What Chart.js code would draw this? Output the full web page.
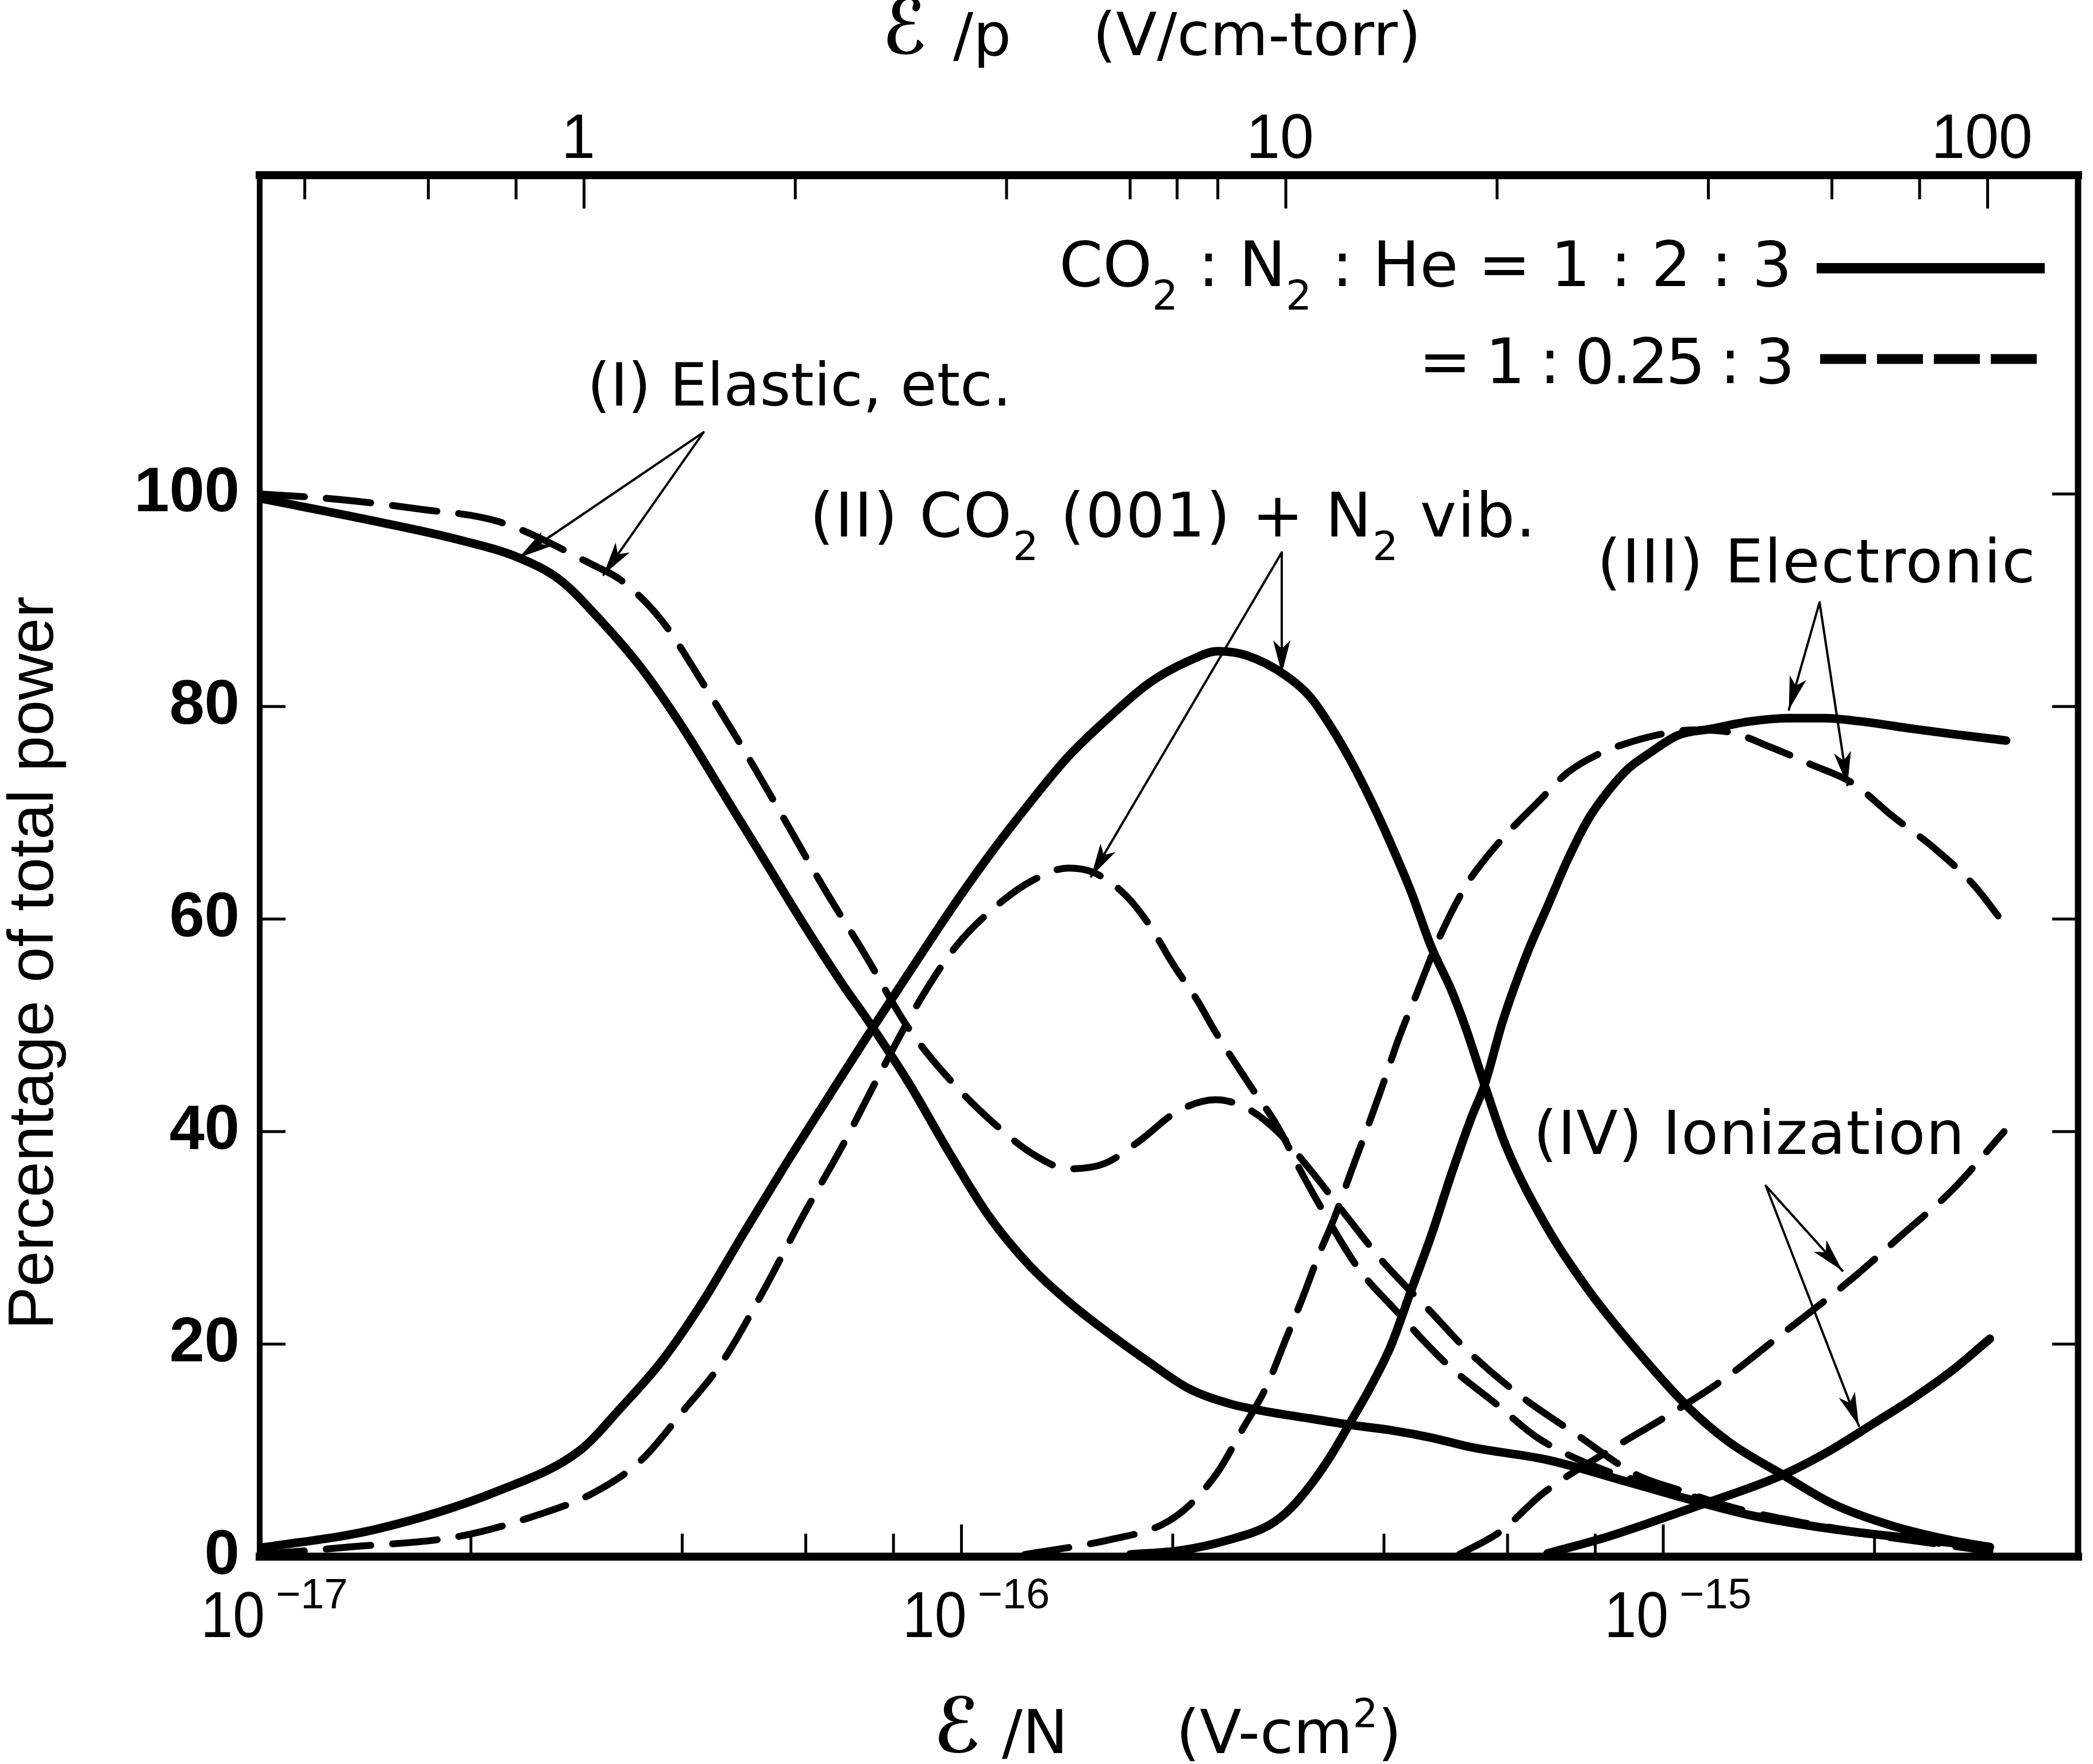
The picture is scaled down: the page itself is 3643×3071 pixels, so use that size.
<!DOCTYPE html>
<html lang="en">
<head>
  <meta charset="UTF-8">
  <title>Percentage of total power vs E/N</title>
  <script src="https://cdn.jsdelivr.net/npm/chart.js"></script>
  <style>
    body { margin: 0; background: #fff; }
    #chart { display: block; }
  </style>
</head>
<body>
<canvas id="chart" width="3643" height="3071"></canvas>
<script>
  // E/N (V-cm^2) against percentage of total power.
  // solid = CO2:N2:He 1:2:3, dashed = 1:0.25:3
  const elasticSolid = [[1.00e-17, 99.6], [1.47e-17, 97.4], [1.92e-17, 95.7], [2.34e-17, 94.0], [2.68e-17, 91.9],
    [3.06e-17, 88.1], [3.50e-17, 83.6], [4.00e-17, 78.1], [4.57e-17, 71.9], [5.22e-17, 65.7], [5.96e-17, 59.5],
    [6.81e-17, 53.6], [7.28e-17, 50.9], [8.39e-17, 44.7], [9.59e-17, 38.1], [1.09e-16, 32.2], [1.25e-16, 27.4],
    [1.42e-16, 24.0], [1.63e-16, 20.9], [1.85e-16, 18.3], [2.11e-16, 15.8], [2.41e-16, 14.4], [2.75e-16, 13.6],
    [3.14e-16, 13.0], [3.58e-16, 12.4], [4.09e-16, 11.9], [4.67e-16, 11.2], [5.32e-16, 10.3], [6.84e-16, 9.1],
    [8.93e-16, 7.0], [1.10e-15, 5.3], [1.33e-15, 3.9], [1.74e-15, 2.6], [2.27e-15, 1.7], [2.92e-15, 0.9]];
  const elasticDashed = [[1.00e-17, 100], [1.29e-17, 99.5], [1.68e-17, 98.6], [2.19e-17, 97.4], [2.99e-17, 93.3],
    [3.27e-17, 91.9], [3.74e-17, 88.1], [4.28e-17, 82.2], [4.89e-17, 76.0], [5.58e-17, 69.5], [6.37e-17, 62.9],
    [7.28e-17, 56.7], [8.39e-17, 49.8], [9.53e-17, 45.2], [1.12e-16, 40.6], [1.27e-16, 37.8], [1.42e-16, 36.5],
    [1.60e-16, 37.0], [1.80e-16, 39.2], [2.02e-16, 41.8], [2.30e-16, 43.0], [2.55e-16, 42.2], [2.82e-16, 40.0],
    [3.14e-16, 36.4], [3.58e-16, 31.6], [3.98e-16, 27.8], [4.67e-16, 23.0], [5.24e-16, 19.5], [6.24e-16, 15.2],
    [7.52e-16, 11.5], [9.16e-16, 7.7], [1.05e-15, 6.3], [1.26e-15, 4.6], [1.58e-15, 3.2], [2.00e-15, 2.1],
    [2.51e-15, 1.2], [2.92e-15, 0.6]];
  const co2Solid = [[1.00e-17, 0.8], [1.47e-17, 2.6], [2.19e-17, 6.2], [2.86e-17, 10.0], [3.27e-17, 14.0],
    [3.74e-17, 18.4], [4.28e-17, 24.0], [4.89e-17, 30.4], [5.58e-17, 36.6], [6.37e-17, 42.6], [7.28e-17, 48.6],
    [8.39e-17, 54.8], [9.59e-17, 60.6], [1.09e-16, 65.8], [1.25e-16, 70.9], [1.42e-16, 75.3], [1.63e-16, 79.1],
    [1.85e-16, 82.2], [2.11e-16, 84.3], [2.32e-16, 85.2], [2.55e-16, 84.8], [2.90e-16, 82.9], [3.14e-16, 80.9],
    [3.36e-16, 78.1], [3.58e-16, 75.0], [3.83e-16, 71.2], [4.09e-16, 67.1], [4.37e-16, 62.6], [4.67e-16, 57.4],
    [4.99e-16, 53.3], [5.24e-16, 49.6], [5.57e-16, 44.3], [5.98e-16, 38.5], [6.84e-16, 30.9], [7.82e-16, 25.1],
    [8.93e-16, 20.3], [1.08e-15, 14.2], [1.24e-15, 10.8], [1.48e-15, 7.7], [1.74e-15, 5.0], [2.12e-15, 2.9],
    [2.59e-15, 1.5], [2.92e-15, 0.9]];
  const co2Dashed = [[1.00e-17, 0.2], [1.34e-17, 0.9], [1.92e-17, 1.9], [2.51e-17, 4.0], [2.99e-17, 6.0],
    [3.50e-17, 9.1], [4.00e-17, 13.6], [4.57e-17, 18.4], [5.22e-17, 25.0], [5.96e-17, 32.2], [6.81e-17, 39.0],
    [7.66e-17, 45.5], [8.75e-17, 52.5], [9.84e-17, 57.5], [1.12e-16, 61.2], [1.26e-16, 63.6], [1.42e-16, 64.8],
    [1.54e-16, 64.4], [1.71e-16, 62.3], [1.85e-16, 59.5], [2.00e-16, 55.8], [2.17e-16, 52.3], [2.29e-16, 49.6],
    [2.58e-16, 44.3], [2.82e-16, 40.5], [3.06e-16, 36.0], [3.27e-16, 32.6], [3.68e-16, 27.1], [4.14e-16, 23.3],
    [4.92e-16, 18.1], [5.77e-16, 14.4], [6.65e-16, 11.1], [8.36e-16, 8.0], [1.02e-15, 6.4], [1.26e-15, 4.4],
    [1.58e-15, 3.0], [2.00e-15, 2.0], [2.51e-15, 1.1], [2.92e-15, 0.5]];
  const electronicSolid = [[1.74e-16, 0.2], [2.06e-16, 0.6], [2.41e-16, 1.6], [2.75e-16, 3.0], [2.94e-16, 4.5],
    [3.14e-16, 6.7], [3.36e-16, 9.5], [3.58e-16, 12.6], [3.83e-16, 16.0], [4.09e-16, 19.8], [4.37e-16, 25.0],
    [4.67e-16, 30.2], [4.99e-16, 36.0], [5.32e-16, 41.2], [5.57e-16, 44.5], [5.90e-16, 50.3], [6.40e-16, 56.8],
    [6.84e-16, 61.2], [7.31e-16, 65.6], [7.82e-16, 69.4], [8.36e-16, 72.1], [8.93e-16, 74.2], [9.55e-16, 75.6],
    [1.05e-15, 77.3], [1.17e-15, 77.9], [1.33e-15, 78.6], [1.52e-15, 78.9], [1.69e-15, 78.9], [1.91e-15, 78.6],
    [2.27e-15, 77.9], [2.59e-15, 77.4], [3.08e-15, 76.8]];
  const electronicDashed = [[1.23e-16, 0.2], [1.63e-16, 1.6], [1.93e-16, 3.0], [2.11e-16, 4.8], [2.32e-16, 8.0],
    [2.51e-16, 11.9], [2.72e-16, 16.0], [2.90e-16, 20.5], [3.06e-16, 24.3], [3.23e-16, 28.4], [3.40e-16, 31.9],
    [3.58e-16, 36.0], [3.78e-16, 40.2], [3.98e-16, 44.3], [4.20e-16, 48.8], [4.43e-16, 52.6], [4.80e-16, 58.3],
    [5.24e-16, 63.2], [5.52e-16, 65.3], [5.98e-16, 68.0], [6.65e-16, 71.1], [7.31e-16, 73.8], [8.13e-16, 75.6],
    [8.93e-16, 76.6], [9.93e-16, 77.4], [1.10e-15, 77.8], [1.24e-15, 77.6], [1.42e-15, 76.2], [1.63e-15, 74.5],
    [1.86e-15, 72.8], [2.12e-15, 69.7], [2.43e-15, 66.7], [2.77e-15, 63.2], [3.04e-15, 59.8]];
  const ionSolid = [[6.84e-16, 0.3], [8.36e-16, 1.9], [1.10e-15, 4.6], [1.48e-15, 7.7], [1.74e-15, 10.1],
    [1.99e-15, 12.5], [2.27e-15, 14.9], [2.59e-15, 17.6], [2.92e-15, 20.5]];
  const ionDashed = [[5.12e-16, 0.2], [5.87e-16, 2.4], [6.75e-16, 6.0], [8.53e-16, 10.3], [1.01e-15, 13.2],
    [1.22e-15, 16.7], [1.46e-15, 20.7], [1.83e-15, 25.8], [2.19e-15, 30.3], [2.59e-15, 34.6], [3.06e-15, 40.0]];

  // axes
  const yTicks = [0, 20, 40, 60, 80, 100];
  const enTicks = [2e-17, 4e-17, 6e-17, 8e-17, 1e-16, 2e-16, 4e-16, 6e-16, 8e-16, 1e-15, 2e-15];
  const enDecades = [-17, -16, -15];
  const epTicks = [0.4, 0.6, 0.8, 1, 2, 4, 6, 7, 8, 10, 20, 40, 60, 80, 100];
  const epLabels = [1, 10, 100];
  const nPerTorr = 3.45e16; // E/p = E/N * N(1 torr)
  const enMin = 1e-17, enMax = 3.9e-15;

  // curve labels and their arrows, in data coordinates
  const notes = [
    { parts: [['(I) Elastic, etc.', '']], at: [2.93e-17, 108.3], size: 103, spacing: 0 },
    { parts: [['(II) CO', ''], ['2', 'sub'], [' (001) + N', ''], ['2', 'sub'], [' vib.', '']], at: [6.08e-17, 96.0], size: 107, spacing: 2 },
    { parts: [['(III) Electronic', '']], at: [8.05e-16, 91.7], size: 106, spacing: 2 },
    { parts: [['(IV) Ionization', '']], at: [6.53e-16, 37.9], size: 106, spacing: 1 }
  ];
  const arrows = [
    { apex: [4.29e-17, 105.8], tips: [[2.34e-17, 94.0], [3.09e-17, 92.4]] },
    { apex: [2.86e-16, 94.5], tips: [[2.86e-16, 83.1], [1.53e-16, 64.0]] },
    { apex: [1.67e-15, 89.8], tips: [[1.51e-15, 79.7], [1.83e-15, 72.6]] },
    { apex: [1.40e-15, 34.9], tips: [[1.80e-15, 26.9], [1.90e-15, 12.3]] }
  ];

  const INK = '#000';
  const SANS = '"DejaVu Sans"';
  const HELV = '"Liberation Sans"';

  function curve(points, dashed) {
    return {
      data: points.map(p => ({ x: p[0], y: p[1] })),
      borderColor: INK,
      borderWidth: dashed ? 12 : 15,
      borderDash: dashed ? [78, 38] : [],
      borderCapStyle: 'round',
      borderJoinStyle: 'round',
      pointRadius: 0,
      cubicInterpolationMode: 'monotone',
      fill: false
    };
  }

  function seg(ctx, x1, y1, x2, y2, w) {
    ctx.lineWidth = w;
    ctx.beginPath();
    ctx.moveTo(x1, y1);
    ctx.lineTo(x2, y2);
    ctx.stroke();
  }

  function squeezed(ctx, text, x, y, font, align, sx) {
    ctx.save();
    ctx.font = font;
    ctx.textAlign = align;
    ctx.translate(x, y);
    ctx.scale(sx, 1);
    ctx.fillText(text, 0, 0);
    ctx.restore();
  }

  // text with sub/superscripts, left or right aligned at x
  function drawParts(ctx, parts, x, y, size, family, align, spacing) {
    ctx.save();
    ctx.textAlign = 'left';
    ctx.letterSpacing = (spacing || 0) + 'px';
    const fontFor = k => (k ? Math.round(size * 0.65) : size) + 'px ' + family;
    const widths = parts.map(([t, k]) => { ctx.font = fontFor(k); return ctx.measureText(t).width; });
    const total = widths.reduce((s, w) => s + w, 0);
    let cx = align === 'right' ? x - total : x;
    parts.forEach(([t, k], i) => {
      ctx.font = fontFor(k);
      const dy = k === 'sub' ? size * 0.38 : k === 'sup' ? -size * 0.42 : 0;
      ctx.fillText(t, cx, y + dy);
      cx += widths[i];
    });
    ctx.restore();
  }

  function arrowHead(ctx, from, to) {
    const ang = Math.atan2(to[1] - from[1], to[0] - from[0]);
    const len = 58, half = 15;
    ctx.beginPath();
    ctx.moveTo(to[0], to[1]);
    ctx.lineTo(to[0] - len * Math.cos(ang) + half * Math.sin(ang), to[1] - len * Math.sin(ang) - half * Math.cos(ang));
    ctx.lineTo(to[0] - len * 0.75 * Math.cos(ang), to[1] - len * 0.75 * Math.sin(ang));
    ctx.lineTo(to[0] - len * Math.cos(ang) - half * Math.sin(ang), to[1] - len * Math.sin(ang) + half * Math.cos(ang));
    ctx.closePath();
    ctx.fill();
  }

  const decorations = {
    id: 'decorations',
    afterDatasetsDraw(chart) {
      const { ctx, chartArea: a, scales } = chart;
      const x = scales.x, y = scales.y;
      const pt = p => [x.getPixelForValue(p[0]), y.getPixelForValue(p[1])];
      // top axis is E/p, placed through the E/N scale
      const epPixel = v => x.getPixelForValue(v / nPerTorr);
      ctx.save();
      ctx.strokeStyle = INK;
      ctx.fillStyle = INK;
      ctx.textBaseline = 'alphabetic';

      // frame
      ctx.lineCap = 'square';
      seg(ctx, a.left, a.top, a.right, a.top, 14);
      seg(ctx, a.left, a.bottom, a.right, a.bottom, 14);
      seg(ctx, a.left, a.top, a.left, a.bottom, 10);
      seg(ctx, a.right, a.top, a.right, a.bottom, 11);

      // inward ticks
      ctx.lineCap = 'butt';
      enTicks.forEach(v => {
        const px = x.getPixelForValue(v);
        const major = Math.abs(Math.log10(v) - Math.round(Math.log10(v))) < 1e-6;
        seg(ctx, px, a.bottom, px, a.bottom - (major ? 56 : 40), 5);
      });
      epTicks.forEach(v => {
        const px = epPixel(v);
        seg(ctx, px, a.top, px, a.top + (epLabels.includes(v) ? 58 : 42), 5);
      });
      yTicks.slice(1).forEach(v => {
        const py = y.getPixelForValue(v);
        seg(ctx, a.left, py, a.left + 45, py, 5);
        seg(ctx, a.right, py, a.right - 45, py, 5);
      });

      // bottom decade labels 10^-n
      enDecades.forEach(e => {
        const px = x.getPixelForValue(Math.pow(10, e));
        squeezed(ctx, '10', px + 9, a.bottom + 140, '114px ' + HELV, 'right', 0.88);
        squeezed(ctx, '\u2212' + Math.abs(e), px + 28, a.bottom + 90, '74px ' + HELV, 'left', 1);
      });
      // top labels (E/p)
      epLabels.forEach(v => {
        squeezed(ctx, String(v), epPixel(v) - 10, a.top - 30, '110px ' + HELV, 'center', 0.96);
      });

      // axis titles
      squeezed(ctx, '\u2130', a.left + 1085, a.top - 212, 'bold 132px ' + SANS, 'left', 0.8);
      ctx.textAlign = 'left';
      ctx.font = '104px ' + SANS;
      ctx.fillText('/p', a.left + 1207, a.top - 209);
      ctx.fillText('(V/cm-torr)', a.left + 1450, a.top - 209);

      squeezed(ctx, '\u2130', a.left + 1174, a.bottom + 340, 'bold 132px ' + SANS, 'left', 0.85);
      ctx.textAlign = 'left';
      ctx.font = '106px ' + SANS;
      ctx.fillText('/N', a.left + 1292, a.bottom + 342);
      drawParts(ctx, [['(V-cm', ''], ['2', 'sup'], [')', '']], a.left + 1595, a.bottom + 342, 106, SANS, 'left', 0);

      ctx.save();
      ctx.translate(a.left - 360, (a.top + a.bottom) / 2 + 169);
      ctx.rotate(-Math.PI / 2);
      ctx.font = '112px ' + HELV;
      ctx.textAlign = 'center';
      ctx.fillText('Percentage of total power', 0, 0);
      ctx.restore();

      // legend
      drawParts(ctx, [['CO', ''], ['2', 'sub'], [' : N', ''], ['2', 'sub'], [' : He = 1 : 2 : 3', '']],
        a.right - 498, a.top + 193, 109, SANS, 'right', 0);
      ctx.lineCap = 'butt';
      seg(ctx, a.right - 455, a.top + 162, a.right - 58, a.top + 162, 18);
      drawParts(ctx, [['= 1 : 0.25 : 3', '']], a.right - 498, a.top + 362, 109, SANS, 'right', -5);
      ctx.setLineDash([80, 19]);
      seg(ctx, a.right - 449, a.top + 320, a.right - 58, a.top + 320, 17);
      ctx.setLineDash([]);

      // curve labels
      notes.forEach(n => {
        const p = pt(n.at);
        drawParts(ctx, n.parts, p[0], p[1], n.size, SANS, 'left', n.spacing);
      });
      ctx.lineCap = 'round';
      arrows.forEach(ar => {
        const apex = pt(ar.apex);
        ar.tips.forEach(t => {
          const tip = pt(t);
          seg(ctx, apex[0], apex[1], tip[0], tip[1], 4);
          arrowHead(ctx, apex, tip);
        });
      });
      ctx.restore();
    }
  };

  new Chart(document.getElementById('chart').getContext('2d'), {
    type: 'line',
    data: {
      datasets: [
        curve(elasticSolid, false), curve(elasticDashed, true),
        curve(co2Solid, false), curve(co2Dashed, true),
        curve(electronicSolid, false), curve(electronicDashed, true),
        curve(ionSolid, false), curve(ionDashed, true)
      ]
    },
    options: {
      responsive: false,
      animation: false,
      devicePixelRatio: 1,
      layout: { padding: { left: 0, right: 26, top: 305, bottom: 0 } },
      plugins: { legend: { display: false }, tooltip: { enabled: false } },
      scales: {
        x: {
          type: 'logarithmic', position: 'bottom', min: enMin, max: enMax,
          grid: { display: false, drawTicks: false },
          border: { display: false },
          ticks: { display: false },
          afterFit: s => { s.height = 361; }
        },
        y: {
          type: 'linear', min: 0, max: 130,
          grid: { display: false, drawTicks: false },
          border: { display: false },
          afterBuildTicks: s => { s.ticks = yTicks.map(v => ({ value: v })); },
          ticks: { color: INK, padding: 35, font: { family: 'Liberation Sans', size: 110, weight: 'bold' }, callback: v => String(v) },
          afterFit: s => { s.width = 452; }
        }
      }
    },
    plugins: [decorations]
  });
</script>
</body>
</html>
